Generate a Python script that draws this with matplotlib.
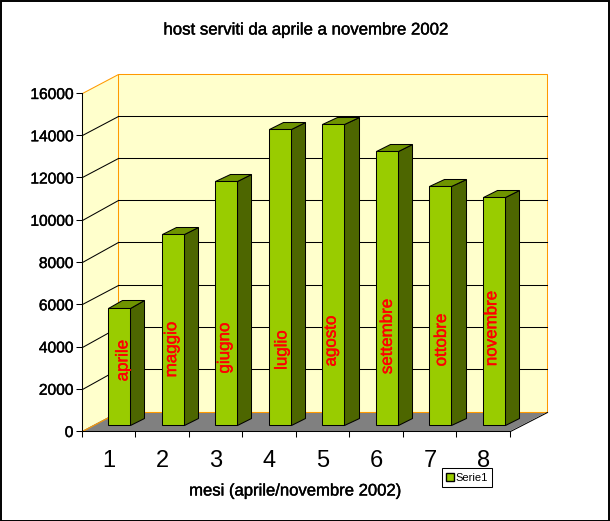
import numpy as np
import matplotlib
matplotlib.use('Agg')
import matplotlib.pyplot as plt
import matplotlib.patheffects as pe
from matplotlib.patches import Polygon, Patch

plt.rcParams['font.family'] = ['Liberation Sans', 'DejaVu Sans']

# dati
mesi = ['aprile', 'maggio', 'giugno', 'luglio', 'agosto', 'settembre', 'ottobre', 'novembre']
categorie = ['1', '2', '3', '4', '5', '6', '7', '8']
host = [5570, 9040, 11550, 14010, 14250, 12970, 11310, 10790]
posizione_etichette = [3337, 3858, 3929, 3834, 4260, 4473, 4308, 4852]
scarto_etichette = [0.07, -0.02, -0.03, 0.04, -0.04, 0.01, 0.02, -0.04]
y_ticks = [0, 2000, 4000, 6000, 8000, 10000, 12000, 14000, 16000]

W, H = 610, 521
# piano frontale in pixel: x 81.7-510, y 431-93
fig = plt.figure(figsize=(W / 100, H / 100), dpi=100, facecolor='white')
ax = fig.add_axes([81.7 / W, 1 - 431 / H, (510 - 81.7) / W, (431 - 93) / H])
ax.set_xlim(0, 8)
ax.set_ylim(0, 16000)
ax.patch.set_visible(False)

# profondita' obliqua in unita' dei dati
dx = 36.7 / ((510 - 81.7) / 8)
dy = 19.5 / ((431 - 93) / 16000)
ARANCIO = '#FF9900'
LW = 0.75


def prof(x, y, d):
    return (x + dx * d, y + dy * d)


def poly(punti, **kw):
    ax.add_patch(Polygon(punti, closed=True, clip_on=False, snap=True, **kw))


def linea(xs, ys, colore, z):
    ax.plot(xs, ys, color=colore, lw=LW, zorder=z, clip_on=False, snap=True)


# pareti e pavimento
poly([prof(0, 0, 1), prof(8, 0, 1), prof(8, 16000, 1), prof(0, 16000, 1)],
     facecolor='#FFFFCC', edgecolor=ARANCIO, linewidth=LW, zorder=1)
poly([prof(0, 0, 0), prof(0, 0, 1), prof(0, 16000, 1), prof(0, 16000, 0)],
     facecolor='#FFFFCC', edgecolor=ARANCIO, linewidth=LW, zorder=1)
poly([prof(0, 0, 0), prof(8, 0, 0), prof(8, 0, 1), prof(0, 0, 1)],
     facecolor='#808080', edgecolor='none', zorder=2)
linea([0, dx], [0, dy], ARANCIO, 2)
linea([dx, 8 + dx], [dy, dy], ARANCIO, 2)
linea([8, 8 + dx], [0, dy], 'black', 2)

# griglia
for v in y_ticks[1:-1]:
    linea([0, dx], [v, v + dy], 'black', 2)
    linea([dx, 8 + dx], [v + dy, v + dy], 'black', 2)

# barre
larg = 0.41
d_fronte = 0.29
d_barra = 0.39
for i, v in enumerate(host):
    x0 = i + 0.5 - larg / 2 + dx * d_fronte
    x1 = x0 + larg
    y0 = dy * d_fronte
    y1 = y0 + v
    sx = dx * d_barra
    sy = dy * d_barra
    z = 3 + i
    poly([(x1, y0), (x1 + sx, y0 + sy), (x1 + sx, y1 + sy), (x1, y1)],
         facecolor='#4D6600', edgecolor='black', linewidth=LW, zorder=z)
    poly([(x0, y1), (x1, y1), (x1 + sx, y1 + sy), (x0 + sx, y1 + sy)],
         facecolor='#6F9400', edgecolor='black', linewidth=LW, zorder=z)
    poly([(x0, y0), (x1, y0), (x1, y1), (x0, y1)],
         facecolor='#99CC00', edgecolor='black', linewidth=LW, zorder=z)
    ax.text(i + 0.5 + dx * d_fronte + scarto_etichette[i], posizione_etichette[i], mesi[i],
            rotation=90, color='#FF0000', ha='center', va='center', fontsize=12.2, zorder=20,
            path_effects=[pe.withStroke(linewidth=0.3, foreground='#FF0000')])

# assi
for s in ['top', 'right']:
    ax.spines[s].set_visible(False)
ax.spines['left'].set_linewidth(LW)
ax.spines['bottom'].set_linewidth(LW)
ax.spines['left'].set_zorder(15)
ax.spines['bottom'].set_zorder(15)
ax.set_yticks(y_ticks)
ax.tick_params(axis='y', labelsize=11.2, length=4, width=LW, pad=2)
ax.set_xticks(np.arange(0, 9))
ax.set_xticklabels([])
ax.tick_params(axis='x', length=4, width=LW)
for lab in ax.get_yticklabels():
    lab.set_path_effects([pe.withStroke(linewidth=0.3, foreground='black')])
for i, c in enumerate(categorie):
    fig.text((108.5 + 53.6 * i) / W, 1 - 467 / H, c, fontsize=17, ha='center', va='baseline')

grassetto = [pe.withStroke(linewidth=0.3, foreground='black')]
fig.text(306 / W, 1 - 30 / H, 'host serviti da aprile a novembre 2002', fontsize=12.1,
         ha='center', va='center', path_effects=grassetto)
fig.text(295.5 / W, 1 - 491 / H, 'mesi (aprile/novembre 2002)', fontsize=12,
         ha='center', va='center', path_effects=grassetto)

leg = fig.legend(handles=[Patch(facecolor='#99CC00', edgecolor='black', label='Serie1')],
                 loc='lower left', bbox_to_anchor=(442 / W, 1 - 487 / H), bbox_transform=fig.transFigure,
                 fontsize=8, frameon=True, fancybox=False, framealpha=1, edgecolor='black',
                 handlelength=0.7, handleheight=0.7, handletextpad=0.1, borderpad=0.4, borderaxespad=0)
leg.get_frame().set_linewidth(LW)
leg.set_zorder(30)

# bordo esterno
fig.add_artist(plt.Rectangle((0.5 / W, 0.5 / H), (W - 1.5) / W, (H - 1.5) / H, transform=fig.transFigure,
                             facecolor='none', edgecolor='black', linewidth=1.4))

fig.savefig('out.png', dpi=100)
